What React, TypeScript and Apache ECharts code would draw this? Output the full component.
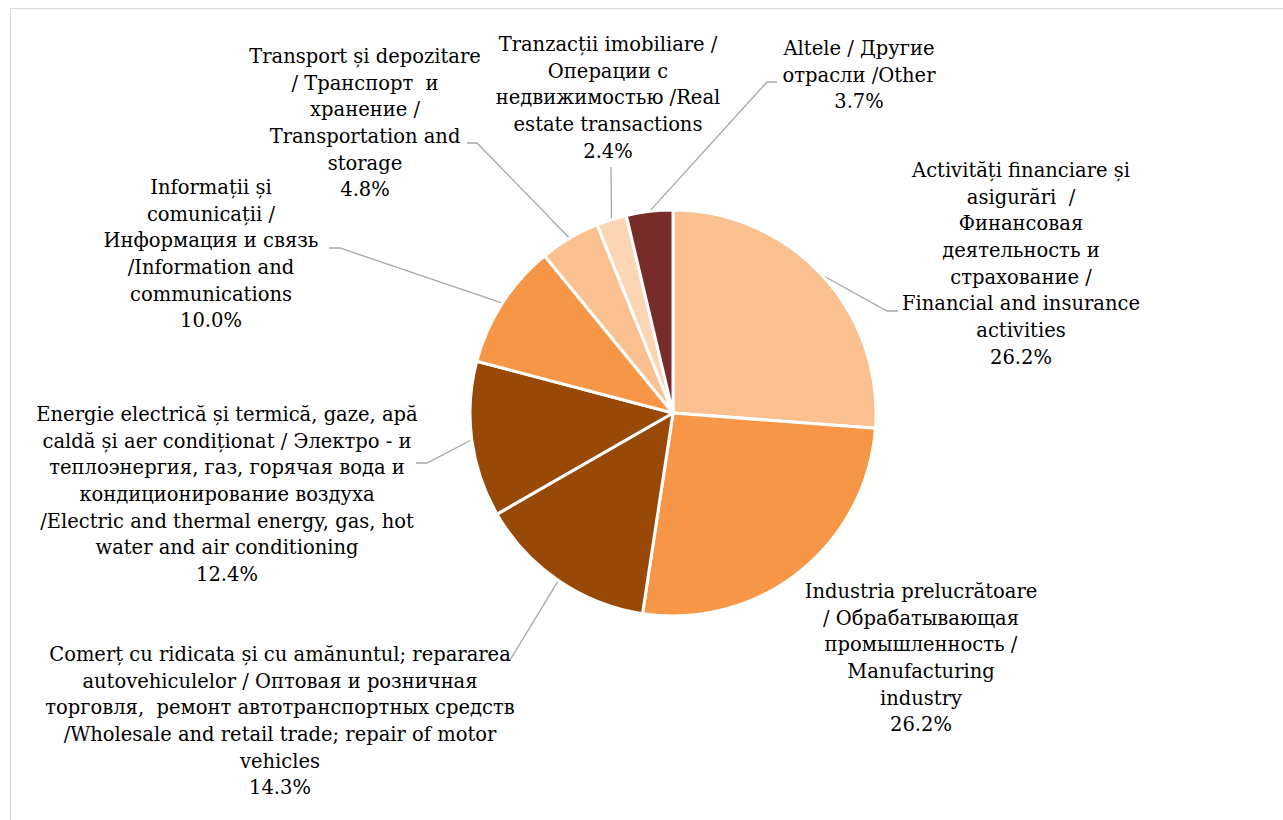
import React, { useEffect, useRef } from "react";
import * as echarts from "echarts";

const categories: string[] = [
  "Activități financiare și\nasigurări  /\nФинансовая\nдеятельность и\nстрахование /\nFinancial and insurance\nactivities",
  "Industria prelucrătoare\n/ Обрабатывающая\nпромышленность /\nManufacturing\nindustry",
  "Comerț cu ridicata și cu amănuntul; repararea\nautovehiculelor / Оптовая и розничная\nторговля,  ремонт автотранспортных средств\n/Wholesale and retail trade; repair of motor\nvehicles",
  "Energie electrică și termică, gaze, apă\ncaldă și aer condiționat / Электро - и\nтеплоэнергия, газ, горячая вода и\nкондиционирование воздуха\n/Electric and thermal energy, gas, hot\nwater and air conditioning",
  "Informații și\ncomunicații /\nИнформация и связь\n/Information and\ncommunications",
  "Transport și depozitare\n/ Транспорт  и\nхранение /\nTransportation and\nstorage",
  "Tranzacții imobiliare /\nОперации с\nнедвижимостью /Real\nestate transactions",
  "Altele / Другие\nотрасли /Other",
];

const values: number[] = [26.2, 26.2, 14.3, 12.4, 10.0, 4.8, 2.4, 3.7];

const colors: string[] = [
  "#FAC090",
  "#F79646",
  "#984807",
  "#984807",
  "#F79646",
  "#FAC090",
  "#FCD5B5",
  "#772C2A",
];

// label layout: centre x, top y, leader-line elbow & end (null = no leader)
const labelLayoutPos: { x: number; y: number; line: number[][] | null }[] = [
  { x: 1021, y: 157, line: [[887, 311], [898, 311]] },
  { x: 921, y: 578, line: null },
  { x: 280, y: 641, line: [[510, 660], [500, 660]] },
  { x: 227, y: 401, line: [[427, 463], [416, 463]] },
  { x: 211, y: 174, line: [[340, 248], [329, 248]] },
  { x: 365, y: 43, line: [[477, 143], [467, 143]] },
  { x: 608, y: 31, line: [[611, 167], [611, 167]] },
  { x: 859, y: 35, line: [[767, 82], [777, 82]] },
];

export default function App() {
  const ref = useRef<HTMLDivElement>(null);

  useEffect(() => {
    document.body.style.margin = "0";
    document.body.style.overflow = "hidden";
    if (!ref.current) return;
    const chart = echarts.init(ref.current, undefined, { renderer: "svg" });

    const data = categories.map((name, i) => ({
      name,
      value: values[i],
      itemStyle: { color: colors[i] },
      labelLine: { show: labelLayoutPos[i].line !== null },
    }));

    chart.setOption({
      animation: false,
      backgroundColor: "#ffffff",
      graphic: [
        {
          type: "rect",
          shape: { x: 10.5, y: 8.5, width: 1400, height: 1000 },
          style: { fill: "none", stroke: "#d9d9d9", lineWidth: 1 },
          silent: true,
        },
      ],
      series: [
        {
          type: "pie",
          center: [673, 413],
          radius: [0, 203],
          startAngle: 90,
          clockwise: true,
          avoidLabelOverlap: false,
          itemStyle: { borderColor: "#ffffff", borderWidth: 3 },
          label: {
            show: true,
            position: "outside",
            formatter: (p: any) => `${p.name}\n${Number(p.value).toFixed(1)}%`,
            fontFamily: "DejaVu Serif",
            fontSize: 19.5,
            lineHeight: 26.7,
            color: "#000000",
            align: "center",
          },
          labelLine: {
            show: true,
            length: 10,
            length2: 10,
            lineStyle: { color: "#a6a6a6", width: 1.3 },
          },
          labelLayout: (params: any) => {
            const pos = labelLayoutPos[params.dataIndex];
            const start = params.labelLinePoints
              ? params.labelLinePoints[0]
              : [0, 0];
            const out: any = {
              x: pos.x,
              y: pos.y,
              align: "center",
              verticalAlign: "top",
            };
            if (pos.line) {
              out.labelLinePoints = [start, pos.line[0], pos.line[1]];
            }
            return out;
          },
          emphasis: { disabled: true },
          data,
        },
      ],
    });

    return () => chart.dispose();
  }, []);

  return <div ref={ref} style={{ width: 1283, height: 820 }} />;
}
